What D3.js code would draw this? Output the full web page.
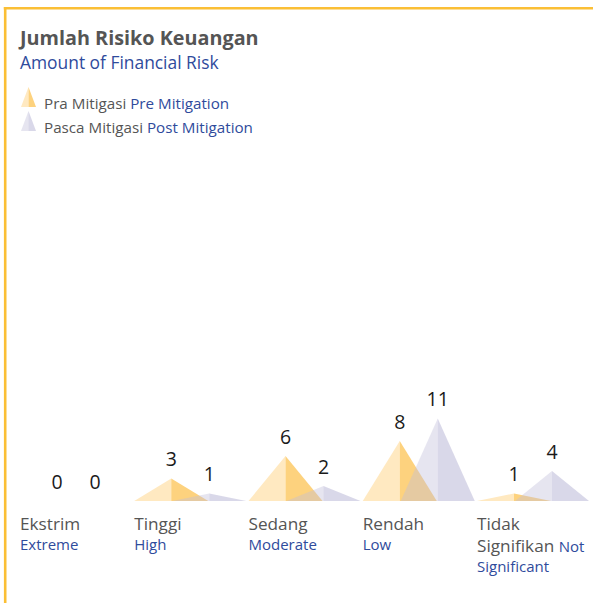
<!DOCTYPE html>
<html>
<head>
<meta charset="utf-8">
<script src="https://cdn.jsdelivr.net/npm/d3@7"></script>
<style>
  html, body { margin: 0; padding: 0; background: #fff; }
  svg { display: block; font-family: "Open Sans", "Noto Sans", sans-serif; }
</style>
</head>
<body>
<svg id="chart" width="593" height="603"></svg>
<script>
// Risk levels (Indonesian / English) and counts before and after mitigation
const categoriesId = ["Ekstrim", "Tinggi", "Sedang", "Rendah", "Tidak Signifikan"];
const categoriesEn = ["Extreme", "High", "Moderate", "Low", "Not Significant"];
const preMitigation = [0, 3, 6, 8, 1];
const postMitigation = [0, 1, 2, 11, 4];

const W = 593, H = 603;
const svg = d3.select("#chart");

const GRAY = "#555555";
const BLUE = "#2f4b9c";
const ACCENT = "#fbbf35";

// Frame: accent line along top and left edges
svg.append("line").attr("x1", 3.8).attr("x2", W).attr("y1", 8.2).attr("y2", 8.2)
  .attr("stroke", ACCENT).attr("stroke-width", 2.6);
svg.append("line").attr("x1", 5.2).attr("x2", 5.2).attr("y1", 7).attr("y2", H)
  .attr("stroke", ACCENT).attr("stroke-width", 2.6);

// Title
svg.append("text").attr("x", 20).attr("y", 44.5)
  .attr("font-size", 19.8).attr("font-weight", 700).attr("fill", GRAY)
  .text("Jumlah Risiko Keuangan");
svg.append("text").attr("x", 20).attr("y", 69)
  .attr("font-size", 17.4).attr("fill", BLUE)
  .text("Amount of Financial Risk");

// Colours for the two halves of each pyramid
const preColors = { left: "#ffe9c1", right: "#fdd27e" };
const postColors = { left: "#c1bed9", right: "#a09ec8" };
const POST_OPACITY = 0.4;

function pyramid(g, cx, halfW, baseY, topY, colors, opacity) {
  g.append("path")
    .attr("d", `M${cx - halfW},${baseY}L${cx},${topY}L${cx},${baseY}Z`)
    .attr("fill", colors.left).attr("fill-opacity", opacity);
  g.append("path")
    .attr("d", `M${cx},${baseY}L${cx},${topY}L${cx + halfW},${baseY}Z`)
    .attr("fill", colors.right).attr("fill-opacity", opacity);
}

// Legend
const legend = [
  { id: "Pra Mitigasi", en: "Pre Mitigation", colors: preColors, op: 1 },
  { id: "Pasca Mitigasi", en: "Post Mitigation", colors: postColors, op: POST_OPACITY }
];
legend.forEach((d, i) => {
  const y0 = 107 + i * 24;
  const g = svg.append("g");
  pyramid(g, 28.5, 7.5, y0, y0 - 20, d.colors, d.op);
  const t = svg.append("text").attr("x", 44).attr("y", y0 + 2).attr("font-size", 15.2);
  t.append("tspan").attr("fill", GRAY).text(d.id + " ");
  t.append("tspan").attr("fill", BLUE).text(d.en);
});

// Scales
const x = d3.scaleBand().domain(categoriesId).range([20, 591.25]).padding(0);
const baseY = 501;
const y = d3.scaleLinear().domain([0, 11]).range([baseY, baseY - 82.5]);
const halfW = 37;
const preCx = c => x(c) + 37;
const postCx = c => x(c) + 75;

const plot = svg.append("g");
// Pre-mitigation pyramids first, post-mitigation drawn over them translucently
categoriesId.forEach((c, i) => {
  if (preMitigation[i] > 0) pyramid(plot, preCx(c), halfW, baseY, y(preMitigation[i]), preColors, 1);
});
categoriesId.forEach((c, i) => {
  if (postMitigation[i] > 0) pyramid(plot, postCx(c), halfW, baseY, y(postMitigation[i]), postColors, POST_OPACITY);
});

// Value labels above each apex
const labels = [];
categoriesId.forEach((c, i) => {
  labels.push({ x: preCx(c), v: preMitigation[i] });
  labels.push({ x: postCx(c), v: postMitigation[i] });
});
svg.append("g").selectAll("text").data(labels).join("text")
  .attr("x", d => d.x).attr("y", d => y(d.v) - 12.5)
  .attr("text-anchor", "middle").attr("font-size", 19.5).attr("fill", "#1a1a1a")
  .text(d => d.v);

// Category labels
categoriesId.forEach((c, i) => {
  const x0 = x(c);
  const g = svg.append("g");
  if (c === "Tidak Signifikan") {
    g.append("text").attr("x", x0).attr("y", 529.5).attr("font-size", 17.2).attr("fill", GRAY).text("Tidak");
    const t = g.append("text").attr("x", x0).attr("y", 552);
    t.append("tspan").attr("font-size", 17.2).attr("fill", GRAY).text("Signifikan ");
    t.append("tspan").attr("font-size", 15).attr("fill", BLUE).text("Not");
    g.append("text").attr("x", x0).attr("y", 571.5).attr("font-size", 15).attr("fill", BLUE).text("Significant");
  } else {
    g.append("text").attr("x", x0).attr("y", 529.5).attr("font-size", 17.2).attr("fill", GRAY).text(c);
    g.append("text").attr("x", x0).attr("y", 550).attr("font-size", 15).attr("fill", BLUE).text(categoriesEn[i]);
  }
});
</script>
</body>
</html>
